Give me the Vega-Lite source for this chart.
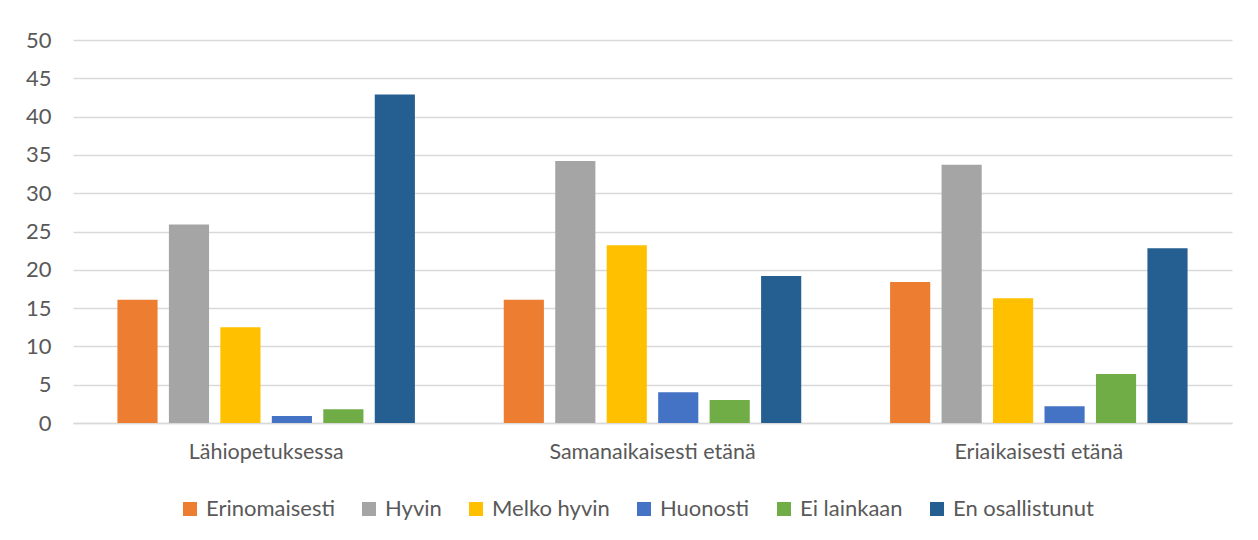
{
  "$schema": "https://vega.github.io/schema/vega-lite/v6.json",
  "width": 1159,
  "height": 383,
  "autosize": {"type": "none"},
  "padding": {"left": 73, "top": 40, "right": 26, "bottom": 117},
  "background": "white",
  "data": {
    "values": [
      {"kategoria": "Lähiopetuksessa", "vastaus": "Erinomaisesti", "arvo": 16.1},
      {"kategoria": "Lähiopetuksessa", "vastaus": "Hyvin", "arvo": 25.9},
      {"kategoria": "Lähiopetuksessa", "vastaus": "Melko hyvin", "arvo": 12.5},
      {"kategoria": "Lähiopetuksessa", "vastaus": "Huonosti", "arvo": 0.9},
      {"kategoria": "Lähiopetuksessa", "vastaus": "Ei lainkaan", "arvo": 1.8},
      {"kategoria": "Lähiopetuksessa", "vastaus": "En osallistunut", "arvo": 42.9},
      {"kategoria": "Samanaikaisesti etänä", "vastaus": "Erinomaisesti", "arvo": 16.1},
      {"kategoria": "Samanaikaisesti etänä", "vastaus": "Hyvin", "arvo": 34.2},
      {"kategoria": "Samanaikaisesti etänä", "vastaus": "Melko hyvin", "arvo": 23.2},
      {"kategoria": "Samanaikaisesti etänä", "vastaus": "Huonosti", "arvo": 4.0},
      {"kategoria": "Samanaikaisesti etänä", "vastaus": "Ei lainkaan", "arvo": 3.0},
      {"kategoria": "Samanaikaisesti etänä", "vastaus": "En osallistunut", "arvo": 19.2},
      {"kategoria": "Eriaikaisesti etänä", "vastaus": "Erinomaisesti", "arvo": 18.4},
      {"kategoria": "Eriaikaisesti etänä", "vastaus": "Hyvin", "arvo": 33.7},
      {"kategoria": "Eriaikaisesti etänä", "vastaus": "Melko hyvin", "arvo": 16.3},
      {"kategoria": "Eriaikaisesti etänä", "vastaus": "Huonosti", "arvo": 2.2},
      {"kategoria": "Eriaikaisesti etänä", "vastaus": "Ei lainkaan", "arvo": 6.4},
      {"kategoria": "Eriaikaisesti etänä", "vastaus": "En osallistunut", "arvo": 22.8}
    ]
  },
  "mark": {"type": "bar"},
  "encoding": {
    "x": {
      "field": "kategoria",
      "type": "nominal",
      "sort": ["Lähiopetuksessa", "Samanaikaisesti etänä", "Eriaikaisesti etänä"],
      "scale": {"paddingInner": 0.23, "paddingOuter": 0.115},
      "axis": {
        "title": null,
        "labelAngle": 0,
        "ticks": false,
        "labelPadding": 18,
        "labelFontSize": 21.5,
        "labelFont": "Lato",
        "labelLimit": 500,
        "labelColor": "#595959",
        "domainColor": "#d9d9d9",
        "domainWidth": 1.5
      }
    },
    "xOffset": {
      "field": "vastaus",
      "type": "nominal",
      "sort": ["Erinomaisesti", "Hyvin", "Melko hyvin", "Huonosti", "Ei lainkaan", "En osallistunut"],
      "scale": {"paddingInner": 0.22, "paddingOuter": 0}
    },
    "y": {
      "field": "arvo",
      "type": "quantitative",
      "scale": {"domain": [0, 50], "nice": false},
      "axis": {
        "title": null,
        "values": [0, 5, 10, 15, 20, 25, 30, 35, 40, 45, 50],
        "ticks": false,
        "domain": false,
        "labelPadding": 22,
        "labelFontSize": 22,
        "labelFont": "Lato",
        "labelColor": "#595959",
        "gridColor": "#d9d9d9",
        "gridWidth": 1.5
      }
    },
    "color": {
      "field": "vastaus",
      "type": "nominal",
      "sort": ["Erinomaisesti", "Hyvin", "Melko hyvin", "Huonosti", "Ei lainkaan", "En osallistunut"],
      "scale": {
        "domain": ["Erinomaisesti", "Hyvin", "Melko hyvin", "Huonosti", "Ei lainkaan", "En osallistunut"],
        "range": ["#ED7D31", "#A5A5A5", "#FFC000", "#4472C4", "#70AD47", "#255E91"]
      },
      "legend": {
        "title": null,
        "orient": "none",
        "direction": "horizontal",
        "legendX": 106,
        "legendY": 458,
        "symbolType": "square",
        "symbolSize": 196,
        "symbolStrokeWidth": 0,
        "labelFontSize": 22,
        "labelFont": "Lato",
        "labelLimit": 400,
        "labelColor": "#595959",
        "labelOffset": 5,
        "columnPadding": 23
      }
    }
  },
  "config": {
    "view": {"stroke": null}
  }
}
